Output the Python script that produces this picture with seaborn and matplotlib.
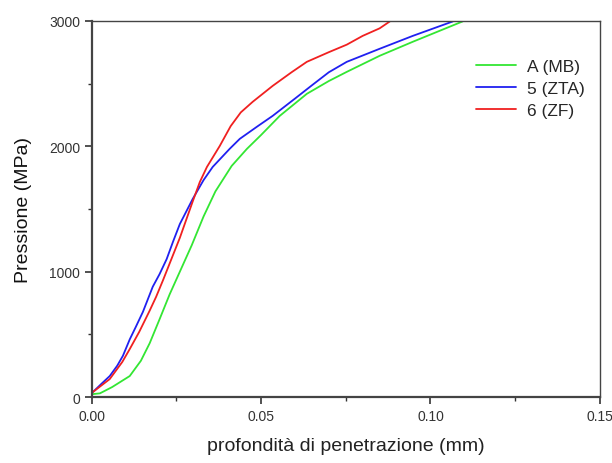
import pandas as pd
import matplotlib.pyplot as plt
import seaborn as sns

# Curves (depth in mm, pressure in MPa)
depth_a = [0.0003, 0.0024, 0.0060, 0.0112, 0.0145, 0.0171, 0.0200, 0.0230, 0.0260, 0.0295,
           0.0330, 0.0365, 0.0413, 0.0458, 0.0500, 0.0555, 0.0635, 0.0700, 0.0753, 0.0850,
           0.0948, 0.1095]
press_a = [24, 30, 80, 168, 290, 430, 620, 820, 1000, 1210,
           1440, 1640, 1843, 1979, 2090, 2242, 2418, 2520, 2593, 2721,
           2833, 2995]

depth_5 = [0.0003, 0.0030, 0.0053, 0.0075, 0.0092, 0.0112, 0.0130, 0.0151, 0.0180, 0.0200,
           0.0221, 0.0240, 0.0260, 0.0298, 0.0330, 0.0357, 0.0407, 0.0437, 0.0490, 0.0534,
           0.0600, 0.0652, 0.0700, 0.0753, 0.0850, 0.0948, 0.1066]
press_5 = [40, 110, 168, 250, 330, 460, 560, 680, 880, 980,
           1100, 1240, 1380, 1580, 1730, 1835, 1979, 2059, 2160, 2242,
           2380, 2490, 2590, 2673, 2777, 2880, 2995]

depth_6 = [0.0003, 0.0053, 0.0090, 0.0112, 0.0140, 0.0171, 0.0190, 0.0210, 0.0235, 0.0260,
           0.0298, 0.0319, 0.0340, 0.0378, 0.0410, 0.0440, 0.0475, 0.0534, 0.0590, 0.0635,
           0.0700, 0.0753, 0.0800, 0.0850, 0.0880]
press_6 = [40, 144, 280, 383, 520, 690, 800, 930, 1100, 1270,
           1560, 1715, 1835, 2003, 2160, 2270, 2354, 2481, 2590, 2673,
           2750, 2810, 2880, 2940, 2995]

labels = ['A (MB)', '5 (ZTA)', '6 (ZF)']
colors = ['#33e633', '#2020f0', '#f02020']

df = pd.concat([
    pd.DataFrame({'depth': depth_a, 'press': press_a, 'campione': labels[0]}),
    pd.DataFrame({'depth': depth_5, 'press': press_5, 'campione': labels[1]}),
    pd.DataFrame({'depth': depth_6, 'press': press_6, 'campione': labels[2]}),
])

sns.set_style('white')
plt.rcParams['font.family'] = ['Liberation Sans', 'DejaVu Sans']

fig = plt.figure(figsize=(6.12, 4.64), dpi=100)
ax = fig.add_axes([0.150, 0.142, 0.830, 0.811])

sns.lineplot(data=df, x='depth', y='press', hue='campione', hue_order=labels,
             palette=dict(zip(labels, colors)), sort=False, linewidth=1.3, ax=ax)

ax.set_xlim(0, 0.15)
ax.set_ylim(0, 3000)
ax.set_xticks([0, 0.05, 0.10, 0.15])
ax.set_xticklabels(['0.00', '0.05', '0.10', '0.15'])
ax.set_yticks([0, 1000, 2000, 3000])
ax.set_xticks([0.025, 0.075, 0.125], minor=True)
ax.set_yticks([500, 1500, 2500], minor=True)
ax.tick_params(which='major', direction='out', length=5, width=1.2, colors='#333333',
               labelsize=10, labelcolor='#333333', bottom=True, left=True)
ax.tick_params(which='minor', direction='out', length=3, width=1.0, colors='#333333',
               bottom=True, left=True)

for side, sp in ax.spines.items():
    sp.set_visible(True)
    sp.set_color('#444444')
    sp.set_linewidth(1.6 if side in ('left', 'bottom') else 1.0)

ax.set_xlabel('profondità di penetrazione (mm)', fontsize=14, labelpad=10, color='#222222')
ax.set_ylabel('Pressione (MPa)', fontsize=14, labelpad=12, color='#111111')

ax.legend(loc='upper left', bbox_to_anchor=(0.757, 0.90), frameon=False, fontsize=12.5,
          handlelength=2.3, handletextpad=0.6, labelspacing=0.4, borderpad=0,
          borderaxespad=0)

fig.savefig('out.png', dpi=100)
plt.close(fig)
